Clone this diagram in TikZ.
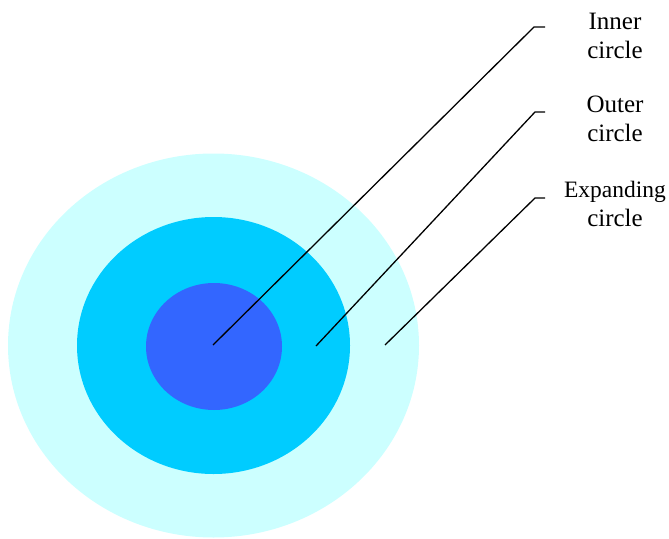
\documentclass[tikz,border=0pt]{standalone}
\usepackage{fontspec}
\setmainfont{Liberation Serif}
\usetikzlibrary{shapes.geometric}
\definecolor{ringlight}{RGB}{204,255,255}
\definecolor{ringmid}{RGB}{0,204,255}
\definecolor{ringinner}{RGB}{51,102,255}
\tikzset{
  disc/.style={ellipse, draw=none, inner sep=0pt},
  lead/.style={draw=black, line width=1.3pt},
  lbl/.style={align=center, inner sep=0pt, font=\fontsize{25}{29.5}\selectfont},
}
\begin{document}
\begin{tikzpicture}[x=1pt,y=-1pt]
\useasboundingbox (0,0) rectangle (669,538);
\node[disc, fill=ringlight, minimum width=411pt, minimum height=384pt] (expanding) at (213.5,345.5) {};
\node[disc, fill=ringmid, minimum width=273pt, minimum height=257pt] (outer) at (213.5,345.5) {};
\node[disc, fill=ringinner, minimum width=136pt, minimum height=127pt] (inner) at (214,346.5) {};

\coordinate (pinner) at (213,345);
\coordinate (pouter) at (316,346);
\coordinate (pexp) at (385,345);
\coordinate (kinner) at (534,27);
\coordinate (kouter) at (535,112);
\coordinate (kexp) at (535,198);
\coordinate (einner) at (545,27);
\coordinate (eouter) at (545,112);
\coordinate (eexp) at (545,198);

\node[lbl] (linner) at (615,36) {Inner\\circle};
\node[lbl] (louter) at (615,119) {Outer\\circle};
\node[lbl] (lexp) at (615,204) {{\fontsize{23.5}{29.5}\selectfont Expanding}\\circle};

\draw[lead] (pinner) -- (kinner) -- (einner);
\draw[lead] (pouter) -- (kouter) -- (eouter);
\draw[lead] (pexp) -- (kexp) -- (eexp);
\end{tikzpicture}
\end{document}
